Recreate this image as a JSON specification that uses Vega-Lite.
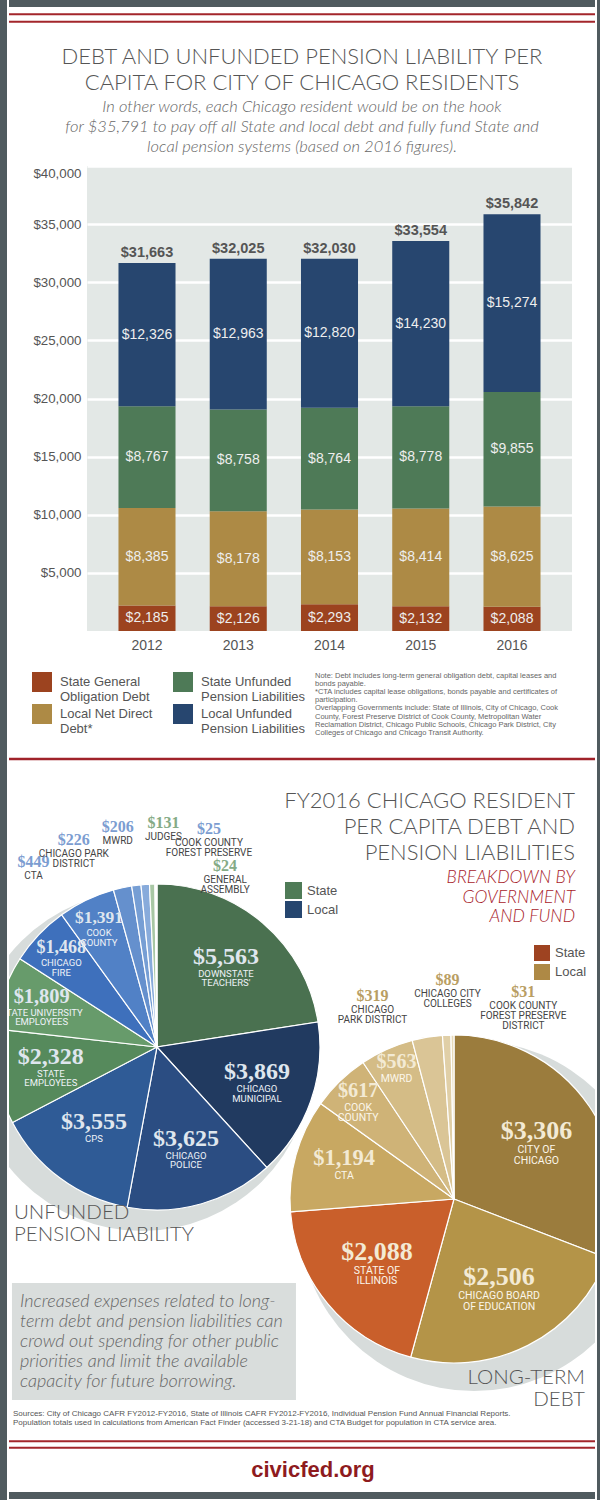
{
  "$schema": "https://vega.github.io/schema/vega-lite/v6.json",
  "background": "white",
  "padding": 0,
  "spacing": 0,
  "config": {
    "view": {"stroke": null},
    "font": "Liberation Sans",
    "concat": {"spacing": 0}
  },
  "resolve": {"scale": {"color": "independent", "size": "independent", "radius": "independent", "theta": "independent"}, "legend": {"color": "independent", "size": "independent"}},
  "datasets": {
    "bars": [
      {"year": "2012", "category": "State General Obligation Debt", "rank": 1, "value": 2185},
      {"year": "2012", "category": "Local Net Direct Debt*", "rank": 2, "value": 8385},
      {"year": "2012", "category": "State Unfunded Pension Liabilities", "rank": 3, "value": 8767},
      {"year": "2012", "category": "Local Unfunded Pension Liabilities", "rank": 4, "value": 12326},
      {"year": "2013", "category": "State General Obligation Debt", "rank": 1, "value": 2126},
      {"year": "2013", "category": "Local Net Direct Debt*", "rank": 2, "value": 8178},
      {"year": "2013", "category": "State Unfunded Pension Liabilities", "rank": 3, "value": 8758},
      {"year": "2013", "category": "Local Unfunded Pension Liabilities", "rank": 4, "value": 12963},
      {"year": "2014", "category": "State General Obligation Debt", "rank": 1, "value": 2293},
      {"year": "2014", "category": "Local Net Direct Debt*", "rank": 2, "value": 8153},
      {"year": "2014", "category": "State Unfunded Pension Liabilities", "rank": 3, "value": 8764},
      {"year": "2014", "category": "Local Unfunded Pension Liabilities", "rank": 4, "value": 12820},
      {"year": "2015", "category": "State General Obligation Debt", "rank": 1, "value": 2132},
      {"year": "2015", "category": "Local Net Direct Debt*", "rank": 2, "value": 8414},
      {"year": "2015", "category": "State Unfunded Pension Liabilities", "rank": 3, "value": 8778},
      {"year": "2015", "category": "Local Unfunded Pension Liabilities", "rank": 4, "value": 14230},
      {"year": "2016", "category": "State General Obligation Debt", "rank": 1, "value": 2088},
      {"year": "2016", "category": "Local Net Direct Debt*", "rank": 2, "value": 8625},
      {"year": "2016", "category": "State Unfunded Pension Liabilities", "rank": 3, "value": 9855},
      {"year": "2016", "category": "Local Unfunded Pension Liabilities", "rank": 4, "value": 15274}
    ],
    "pension": [
      {"pie": "pension", "fund": "Downstate Teachers'", "label": "DOWNSTATE\nTEACHERS'", "level": "State", "value": 5563},
      {"pie": "pension", "fund": "Chicago Municipal", "label": "CHICAGO\nMUNICIPAL", "level": "Local", "value": 3869},
      {"pie": "pension", "fund": "Chicago Police", "label": "CHICAGO\nPOLICE", "level": "Local", "value": 3625},
      {"pie": "pension", "fund": "CPS", "label": "CPS", "level": "Local", "value": 3555},
      {"pie": "pension", "fund": "State Employees", "label": "STATE\nEMPLOYEES", "level": "State", "value": 2328},
      {"pie": "pension", "fund": "State University Employees", "label": "STATE UNIVERSITY\nEMPLOYEES", "level": "State", "value": 1809},
      {"pie": "pension", "fund": "Chicago Fire", "label": "CHICAGO\nFIRE", "level": "Local", "value": 1468},
      {"pie": "pension", "fund": "Cook County", "label": "COOK\nCOUNTY", "level": "Local", "value": 1391},
      {"pie": "pension", "fund": "CTA", "label": "CTA", "level": "Local", "value": 449},
      {"pie": "pension", "fund": "Chicago Park District", "label": "CHICAGO PARK\nDISTRICT", "level": "Local", "value": 226},
      {"pie": "pension", "fund": "MWRD", "label": "MWRD", "level": "Local", "value": 206},
      {"pie": "pension", "fund": "Judges", "label": "JUDGES", "level": "State", "value": 131},
      {"pie": "pension", "fund": "Cook County Forest Preserve", "label": "COOK COUNTY\nFOREST PRESERVE", "level": "Local", "value": 25},
      {"pie": "pension", "fund": "General Assembly", "label": "GENERAL\nASSEMBLY", "level": "State", "value": 24}
    ],
    "debt": [
      {"pie": "debt", "fund": "City of Chicago", "label": "CITY OF\nCHICAGO", "level": "Local", "value": 3306},
      {"pie": "debt", "fund": "Chicago Board of Education", "label": "CHICAGO BOARD\nOF EDUCATION", "level": "Local", "value": 2506},
      {"pie": "debt", "fund": "State of Illinois", "label": "STATE OF\nILLINOIS", "level": "State", "value": 2088},
      {"pie": "debt", "fund": "CTA", "label": "CTA", "level": "Local", "value": 1194},
      {"pie": "debt", "fund": "Cook County", "label": "COOK\nCOUNTY", "level": "Local", "value": 617},
      {"pie": "debt", "fund": "MWRD", "label": "MWRD", "level": "Local", "value": 563},
      {"pie": "debt", "fund": "Chicago Park District", "label": "CHICAGO\nPARK DISTRICT", "level": "Local", "value": 319},
      {"pie": "debt", "fund": "Chicago City Colleges", "label": "CHICAGO CITY\nCOLLEGES", "level": "Local", "value": 89},
      {"pie": "debt", "fund": "Cook County Forest Preserve District", "label": "COOK COUNTY\nFOREST PRESERVE\nDISTRICT", "level": "Local", "value": 31}
    ],
    "pies": [
      {"pie": "pension", "caption": "UNFUNDED\nPENSION LIABILITY", "note": "Increased expenses related to long-\nterm debt and pension liabilities can\ncrowd out spending for other public\npriorities and limit the available\ncapacity for future borrowing."},
      {"pie": "debt", "caption": "LONG-TERM\nDEBT", "note": ""}
    ],
    "levels": [
      {"pie": "pension", "level": "State"},
      {"pie": "pension", "level": "Local"},
      {"pie": "debt", "level": "State"},
      {"pie": "debt", "level": "Local"}
    ]
  },
  "hconcat": [
    {"width": 7, "height": 1500, "data": {"values": []}, "mark": "point", "view": {"fill": "#505b5f", "stroke": null}},
    {
      "spacing": 0,
      "resolve": {"scale": {"color": "independent", "size": "independent", "radius": "independent", "theta": "independent"}, "legend": {"color": "independent", "size": "independent"}},
      "vconcat": [
        {"width": 586, "height": 7, "data": {"values": []}, "mark": "point", "view": {"fill": "#505b5f", "stroke": null}},
        {
          "width": 586, "height": 22,
          "data": {"values": [{"line": "upper"}, {"line": "lower"}]},
          "mark": {"type": "rule", "color": "#a3262b", "strokeWidth": 2},
          "encoding": {"y": {"field": "line", "type": "nominal", "scale": {"type": "point", "domain": ["upper", "lower"], "padding": 1}, "axis": null}}
        },
        {
          "width": 586, "height": 137,
          "data": {"values": [{"title": "DEBT AND UNFUNDED PENSION LIABILITY PER\nCAPITA FOR CITY OF CHICAGO RESIDENTS", "subtitle": "In other words, each Chicago resident would be on the hook\nfor $35,791 to pay off all State and local debt and fully fund State and\nlocal pension systems (based on 2016 figures)."}]},
          "layer": [
            {"mark": {"type": "text", "align": "center", "baseline": "middle", "dy": -40.5, "font": "Lato", "fontWeight": 300, "fontSize": 22, "lineHeight": 26, "color": "#555555", "lineBreak": "\n"}, "encoding": {"text": {"field": "title", "type": "nominal"}}},
            {"mark": {"type": "text", "align": "center", "baseline": "middle", "dy": 9.5, "font": "Lato", "fontStyle": "italic", "fontWeight": 300, "fontSize": 16.5, "lineHeight": 20, "color": "#666666", "lineBreak": "\n"}, "encoding": {"text": {"field": "subtitle", "type": "nominal"}}}
          ]
        },
        {
          "spacing": 0,
          "resolve": {"scale": {"color": "independent"}, "legend": {"color": "independent"}},
          "hconcat": [
            {"width": 23, "height": 1, "data": {"values": []}, "mark": "point"},
            {
              "width": 485, "height": 465,
              "view": {"fill": "#e3e8e6", "stroke": null},
              "data": {"name": "bars"},
              "encoding": {
                "x": {"field": "year", "type": "ordinal", "scale": {"paddingInner": 0.375, "paddingOuter": 0.345}, "axis": {"title": null, "labelAngle": 0, "labelFontSize": 14, "labelColor": "#555555", "labelPadding": 7, "domain": false, "ticks": false}}
              },
              "layer": [
                {
                  "mark": {"type": "bar"},
                  "encoding": {
                    "y": {"field": "value", "type": "quantitative", "stack": "zero", "title": null, "scale": {"domain": [0, 40000]},
                      "axis": {"values": [5000, 10000, 15000, 20000, 25000, 30000, 35000, 40000], "format": "$,.0f", "labelFontSize": 13.3, "labelColor": "#555555", "labelPadding": 6, "labelFlush": true, "domain": false, "ticks": false, "grid": true, "gridColor": "#ffffff", "gridWidth": 2.5, "gridOpacity": 1}},
                    "order": {"field": "rank", "type": "quantitative"},
                    "color": {
                      "field": "category", "type": "nominal",
                      "scale": {"domain": ["State General Obligation Debt", "Local Net Direct Debt*", "State Unfunded Pension Liabilities", "Local Unfunded Pension Liabilities"], "range": ["#9c431f", "#ad8a45", "#4e7a57", "#27466f"]},
                      "legend": {
                        "orient": "none", "legendX": -55, "legendY": 506, "columns": 2, "padding": 0,
                        "symbolType": "square", "symbolSize": 400, "symbolStrokeWidth": 0, "symbolOpacity": 1,
                        "labelFontSize": 13, "labelColor": "#555555", "labelOffset": 8, "labelLimit": 220, "columnPadding": 20, "rowPadding": 0,
                        "labelExpr": "datum.label == 'State General Obligation Debt' ? ['State General', 'Obligation Debt'] : datum.label == 'Local Net Direct Debt*' ? ['Local Net Direct', 'Debt*'] : datum.label == 'State Unfunded Pension Liabilities' ? ['State Unfunded', 'Pension Liabilities'] : ['Local Unfunded', 'Pension Liabilities']",
                        "title": ["Note: Debt includes long-term general obligation debt, capital leases and", "bonds payable.", "*CTA includes capital lease obligations, bonds payable and certificates of", "participation.", "Overlapping Governments include: State of Illinois, City of Chicago, Cook", "County, Forest Preserve District of Cook County, Metropolitan Water", "Reclamation District, Chicago Public Schools, Chicago Park District, City", "Colleges of Chicago and Chicago Transit Authority."],
                        "titleOrient": "right", "titleAnchor": "start", "titleAlign": "left", "titleBaseline": "top", "titlePadding": 10,
                        "titleFontSize": 7.5, "titleFontWeight": "normal", "titleColor": "#666666", "titleLimit": 300, "titleLineHeight": 8.1
                      }
                    }
                  }
                },
                {
                  "mark": {"type": "text", "fontSize": 14, "color": "#eeeeee"},
                  "encoding": {
                    "y": {"field": "value", "type": "quantitative", "stack": "zero", "bandPosition": 0.5, "title": null},
                    "detail": {"field": "category", "type": "nominal"},
                    "order": {"field": "rank", "type": "quantitative"},
                    "text": {"field": "value", "type": "quantitative", "format": "$,.0f"}
                  }
                },
                {
                  "mark": {"type": "text", "fontSize": 14.5, "fontWeight": "bold", "color": "#555555", "baseline": "bottom", "dy": -3},
                  "encoding": {
                    "y": {"aggregate": "sum", "field": "value", "type": "quantitative", "title": null},
                    "text": {"aggregate": "sum", "field": "value", "type": "quantitative", "format": "$,.0f"}
                  }
                }
              ]
            }
          ]
        },
        {"width": 586, "height": 14, "data": {"values": []}, "mark": "point"},
        {
          "width": 586, "height": 16,
          "data": {"values": [{"line": "separator"}]},
          "mark": {"type": "rule", "color": "#a0222a", "strokeWidth": 2.5},
          "encoding": {"y": {"field": "line", "type": "nominal", "scale": {"type": "point", "padding": 0.5}, "axis": null}}
        },
        {
          "width": 586, "height": 641,
          "resolve": {"scale": {"theta": "independent", "color": "independent", "radius": "independent", "size": "independent"}, "legend": {"color": "independent", "size": "independent"}},
          "layer": [
            {
              "data": {"name": "pies"},
              "transform": [{"filter": "datum.pie == 'pension'"}],
              "mark": {"type": "arc", "outerRadius": 170, "color": "#d7dcdb", "xOffset": -15, "yOffset": 14, "clip": true},
              "encoding": {
                "x": {"field": "pie", "type": "nominal", "scale": {"type": "point", "domain": ["pension", "debt"], "padding": 0.4865, "align": 0.512}, "axis": null},
                "y": {"field": "pie", "type": "nominal", "scale": {"type": "point", "domain": ["pension", "debt"], "range": [280, 432], "padding": 0}, "axis": null}
              }
            },
            {
              "data": {"name": "pies"},
              "transform": [{"filter": "datum.pie == 'debt'"}],
              "mark": {"type": "arc", "outerRadius": 175, "color": "#d7dcdb", "xOffset": 20, "yOffset": 17, "clip": true},
              "encoding": {
                "x": {"field": "pie", "type": "nominal", "scale": {"type": "point", "domain": ["pension", "debt"], "padding": 0.4865, "align": 0.512}, "axis": null},
                "y": {"field": "pie", "type": "nominal", "scale": {"type": "point", "domain": ["pension", "debt"], "range": [280, 432], "padding": 0}, "axis": null}
              }
            },
            {
              "data": {"name": "pies"},
              "transform": [{"filter": "datum.pie == 'pension'"}],
              "mark": {"type": "point", "shape": "M-1,-0.412L1,-0.412L1,0.412L-1,0.412Z", "size": 80656, "filled": true, "color": "#d9dddc", "opacity": 1, "strokeWidth": 0, "xOffset": -3, "yOffset": 294.5, "clip": true},
              "encoding": {
                "x": {"field": "pie", "type": "nominal", "scale": {"type": "point", "domain": ["pension", "debt"], "padding": 0.4865, "align": 0.512}, "axis": null},
                "y": {"field": "pie", "type": "nominal", "scale": {"type": "point", "domain": ["pension", "debt"], "range": [280, 432], "padding": 0}, "axis": null}
              }
            },
            {
              "data": {"name": "pies"},
              "transform": [{"filter": "datum.pie == 'pension'"}],
              "mark": {"type": "text", "align": "left", "baseline": "middle", "dx": -137, "dy": 255, "font": "Lato", "fontStyle": "italic", "fontWeight": 300, "fontSize": 18, "lineHeight": 20, "color": "#666666", "lineBreak": "\n", "clip": true},
              "encoding": {
                "x": {"field": "pie", "type": "nominal", "scale": {"type": "point", "domain": ["pension", "debt"], "padding": 0.4865, "align": 0.512}, "axis": null},
                "y": {"field": "pie", "type": "nominal", "scale": {"type": "point", "domain": ["pension", "debt"], "range": [280, 432], "padding": 0}, "axis": null},
                "text": {"field": "note", "type": "nominal"}
              }
            },
            {
              "data": {"name": "pension"},
              "mark": {"type": "arc", "outerRadius": 163, "stroke": "#ffffff", "strokeWidth": 1.2, "clip": true},
              "encoding": {
                "x": {"field": "pie", "type": "nominal", "scale": {"type": "point", "domain": ["pension", "debt"], "padding": 0.4865, "align": 0.512}, "axis": null},
                "y": {"field": "pie", "type": "nominal", "scale": {"type": "point", "domain": ["pension", "debt"], "range": [280, 432], "padding": 0}, "axis": null},
                "theta": {"field": "value", "type": "quantitative", "stack": true},
                "order": {"field": "value", "type": "quantitative", "sort": "descending"},
                "color": {"field": "fund", "type": "nominal", "legend": null,
                  "scale": {"domain": ["Downstate Teachers'", "Chicago Municipal", "Chicago Police", "CPS", "State Employees", "State University Employees", "Chicago Fire", "Cook County", "CTA", "Chicago Park District", "MWRD", "Judges", "Cook County Forest Preserve", "General Assembly"],
                    "range": ["#4a7150", "#213a60", "#2b4d82", "#2f5b96", "#568a5c", "#679b6b", "#3e70bc", "#5181c6", "#6590cd", "#769ed4", "#88abdb", "#a8c7a4", "#b7cfeb", "#c6dac2"]}}
              }
            },
            {
              "data": {"name": "debt"},
              "mark": {"type": "arc", "outerRadius": 164, "stroke": "#ffffff", "strokeWidth": 1.2, "clip": true},
              "encoding": {
                "x": {"field": "pie", "type": "nominal", "scale": {"type": "point", "domain": ["pension", "debt"], "padding": 0.4865, "align": 0.512}, "axis": null},
                "y": {"field": "pie", "type": "nominal", "scale": {"type": "point", "domain": ["pension", "debt"], "range": [280, 432], "padding": 0}, "axis": null},
                "theta": {"field": "value", "type": "quantitative", "stack": true},
                "order": {"field": "value", "type": "quantitative", "sort": "descending"},
                "color": {"field": "fund", "type": "nominal", "legend": null,
                  "scale": {"domain": ["City of Chicago", "Chicago Board of Education", "State of Illinois", "CTA", "Cook County", "MWRD", "Chicago Park District", "Chicago City Colleges", "Cook County Forest Preserve District"],
                    "range": ["#9b7c3d", "#b49448", "#c95f2b", "#c8a862", "#cfb377", "#d4bc86", "#dac596", "#e0cfa7", "#e7dab9"]}}
              }
            },
            {
              "data": {"name": "pension"},
              "mark": {"type": "text", "font": "Liberation Serif", "fontWeight": "bold", "color": "#dfe6ee", "baseline": "alphabetic", "dy": -3, "clip": true},
              "encoding": {
                "x": {"field": "pie", "type": "nominal", "scale": {"type": "point", "domain": ["pension", "debt"], "padding": 0.4865, "align": 0.512}, "axis": null},
                "y": {"field": "pie", "type": "nominal", "scale": {"type": "point", "domain": ["pension", "debt"], "range": [280, 432], "padding": 0}, "axis": null},
                "theta": {"field": "value", "type": "quantitative", "stack": true},
                "order": {"field": "value", "type": "quantitative", "sort": "descending"},
                "radius": {"field": "value", "type": "quantitative", "scale": {"type": "linear", "domain": [1391, 2400], "range": [134, 106], "clamp": true, "zero": false}},
                "size": {"field": "value", "type": "quantitative", "scale": {"type": "linear", "domain": [1391, 2328], "range": [17.5, 24], "clamp": true, "zero": false}, "legend": null},
                "text": {"condition": {"test": "datum.value >= 1000", "field": "value", "type": "quantitative", "format": "$,.0f"}, "value": ""}
              }
            },
            {
              "data": {"name": "pension"},
              "mark": {"type": "text", "font": "Roboto", "fontSize": 9.5, "lineHeight": 9.5, "color": "#eef2f7", "baseline": "top", "dy": 2, "lineBreak": "\n", "clip": true},
              "encoding": {
                "x": {"field": "pie", "type": "nominal", "scale": {"type": "point", "domain": ["pension", "debt"], "padding": 0.4865, "align": 0.512}, "axis": null},
                "y": {"field": "pie", "type": "nominal", "scale": {"type": "point", "domain": ["pension", "debt"], "range": [280, 432], "padding": 0}, "axis": null},
                "theta": {"field": "value", "type": "quantitative", "stack": true},
                "order": {"field": "value", "type": "quantitative", "sort": "descending"},
                "radius": {"field": "value", "type": "quantitative", "scale": {"type": "linear", "domain": [1391, 2400], "range": [134, 106], "clamp": true, "zero": false}},
                "text": {"condition": {"test": "datum.value >= 1000", "field": "label", "type": "nominal"}, "value": ""}
              }
            },
            {
              "data": {"name": "debt"},
              "mark": {"type": "text", "font": "Liberation Serif", "fontWeight": "bold", "color": "#f3ead4", "baseline": "alphabetic", "dy": -3, "clip": true},
              "encoding": {
                "x": {"field": "pie", "type": "nominal", "scale": {"type": "point", "domain": ["pension", "debt"], "padding": 0.4865, "align": 0.512}, "axis": null},
                "y": {"field": "pie", "type": "nominal", "scale": {"type": "point", "domain": ["pension", "debt"], "range": [280, 432], "padding": 0}, "axis": null},
                "theta": {"field": "value", "type": "quantitative", "stack": true},
                "order": {"field": "value", "type": "quantitative", "sort": "descending"},
                "radius": {"field": "value", "type": "quantitative", "scale": {"type": "linear", "domain": [563, 1194, 2088], "range": [140, 114, 100], "clamp": true, "zero": false}},
                "size": {"field": "value", "type": "quantitative", "scale": {"type": "linear", "domain": [563, 2088], "range": [20, 26], "clamp": true, "zero": false}, "legend": null},
                "text": {"condition": {"test": "datum.value >= 500", "field": "value", "type": "quantitative", "format": "$,.0f"}, "value": ""}
              }
            },
            {
              "data": {"name": "debt"},
              "mark": {"type": "text", "font": "Roboto", "fontSize": 10.5, "lineHeight": 10.5, "color": "#fbf6ea", "baseline": "top", "dy": 3, "lineBreak": "\n", "clip": true},
              "encoding": {
                "x": {"field": "pie", "type": "nominal", "scale": {"type": "point", "domain": ["pension", "debt"], "padding": 0.4865, "align": 0.512}, "axis": null},
                "y": {"field": "pie", "type": "nominal", "scale": {"type": "point", "domain": ["pension", "debt"], "range": [280, 432], "padding": 0}, "axis": null},
                "theta": {"field": "value", "type": "quantitative", "stack": true},
                "order": {"field": "value", "type": "quantitative", "sort": "descending"},
                "radius": {"field": "value", "type": "quantitative", "scale": {"type": "linear", "domain": [563, 1194, 2088], "range": [140, 114, 100], "clamp": true, "zero": false}},
                "text": {"condition": {"test": "datum.value >= 500", "field": "label", "type": "nominal"}, "value": ""}
              }
            },
            {
              "data": {"name": "pension"},
              "transform": [{"filter": "datum.value < 1000 && datum.fund != 'General Assembly'"}],
              "mark": {"type": "text", "radius": 216, "font": "Liberation Serif", "fontWeight": "bold", "fontSize": 16, "baseline": "bottom", "clip": true},
              "encoding": {
                "x": {"field": "pie", "type": "nominal", "scale": {"type": "point", "domain": ["pension", "debt"], "padding": 0.4865, "align": 0.512}, "axis": null},
                "y": {"field": "pie", "type": "nominal", "scale": {"type": "point", "domain": ["pension", "debt"], "range": [280, 432], "padding": 0}, "axis": null},
                "theta": {"field": "fund", "type": "nominal", "scale": {"type": "point", "domain": ["CTA", "Chicago Park District", "MWRD", "Judges", "Cook County Forest Preserve"], "range": [-0.608, 0.243], "padding": 0}},
                "color": {"field": "level", "type": "nominal", "scale": {"domain": ["State", "Local"], "range": ["#85ab86", "#7c9dd1"]}, "legend": null},
                "text": {"field": "value", "type": "quantitative", "format": "$,.0f"}
              }
            },
            {
              "data": {"name": "pension"},
              "transform": [{"filter": "datum.value < 1000 && datum.fund != 'General Assembly'"}],
              "mark": {"type": "text", "radius": 216, "font": "Roboto", "fontSize": 10, "lineHeight": 10, "color": "#444444", "baseline": "top", "dy": 1, "lineBreak": "\n", "clip": true},
              "encoding": {
                "x": {"field": "pie", "type": "nominal", "scale": {"type": "point", "domain": ["pension", "debt"], "padding": 0.4865, "align": 0.512}, "axis": null},
                "y": {"field": "pie", "type": "nominal", "scale": {"type": "point", "domain": ["pension", "debt"], "range": [280, 432], "padding": 0}, "axis": null},
                "theta": {"field": "fund", "type": "nominal", "scale": {"type": "point", "domain": ["CTA", "Chicago Park District", "MWRD", "Judges", "Cook County Forest Preserve"], "range": [-0.608, 0.243], "padding": 0}},
                "text": {"field": "label", "type": "nominal"}
              }
            },
            {
              "data": {"name": "pension"},
              "transform": [{"filter": "datum.fund == 'General Assembly'"}],
              "mark": {"type": "text", "radius": 186, "font": "Liberation Serif", "fontWeight": "bold", "fontSize": 16, "baseline": "bottom", "clip": true},
              "encoding": {
                "x": {"field": "pie", "type": "nominal", "scale": {"type": "point", "domain": ["pension", "debt"], "padding": 0.4865, "align": 0.512}, "axis": null},
                "y": {"field": "pie", "type": "nominal", "scale": {"type": "point", "domain": ["pension", "debt"], "range": [280, 432], "padding": 0}, "axis": null},
                "theta": {"field": "fund", "type": "nominal", "scale": {"type": "point", "domain": ["General Assembly"], "range": [0.3, 0.45], "padding": 0}},
                "color": {"field": "level", "type": "nominal", "scale": {"domain": ["State", "Local"], "range": ["#85ab86", "#7c9dd1"]}, "legend": null},
                "text": {"field": "value", "type": "quantitative", "format": "$,.0f"}
              }
            },
            {
              "data": {"name": "pension"},
              "transform": [{"filter": "datum.fund == 'General Assembly'"}],
              "mark": {"type": "text", "radius": 186, "font": "Roboto", "fontSize": 10, "lineHeight": 10, "color": "#444444", "baseline": "top", "dy": 1, "lineBreak": "\n", "clip": true},
              "encoding": {
                "x": {"field": "pie", "type": "nominal", "scale": {"type": "point", "domain": ["pension", "debt"], "padding": 0.4865, "align": 0.512}, "axis": null},
                "y": {"field": "pie", "type": "nominal", "scale": {"type": "point", "domain": ["pension", "debt"], "range": [280, 432], "padding": 0}, "axis": null},
                "theta": {"field": "fund", "type": "nominal", "scale": {"type": "point", "domain": ["General Assembly"], "range": [0.3, 0.45], "padding": 0}},
                "text": {"field": "label", "type": "nominal"}
              }
            },
            {
              "data": {"name": "debt"},
              "transform": [{"filter": "datum.value < 500"}],
              "mark": {"type": "text", "radius": 211, "font": "Liberation Serif", "fontWeight": "bold", "fontSize": 16, "color": "#b99e63", "baseline": "bottom", "clip": true},
              "encoding": {
                "x": {"field": "pie", "type": "nominal", "scale": {"type": "point", "domain": ["pension", "debt"], "padding": 0.4865, "align": 0.512}, "axis": null},
                "y": {"field": "pie", "type": "nominal", "scale": {"type": "point", "domain": ["pension", "debt"], "range": [280, 432], "padding": 0}, "axis": null},
                "theta": {"field": "fund", "type": "nominal", "scale": {"type": "point", "domain": ["Chicago Park District", "Chicago City Colleges", "Cook County Forest Preserve District"], "range": [-0.396, 0.335], "padding": 0}},
                "text": {"field": "value", "type": "quantitative", "format": "$,.0f"}
              }
            },
            {
              "data": {"name": "debt"},
              "transform": [{"filter": "datum.value < 500"}],
              "mark": {"type": "text", "radius": 211, "font": "Roboto", "fontSize": 10, "lineHeight": 10, "color": "#444444", "baseline": "top", "dy": 1, "lineBreak": "\n", "clip": true},
              "encoding": {
                "x": {"field": "pie", "type": "nominal", "scale": {"type": "point", "domain": ["pension", "debt"], "padding": 0.4865, "align": 0.512}, "axis": null},
                "y": {"field": "pie", "type": "nominal", "scale": {"type": "point", "domain": ["pension", "debt"], "range": [280, 432], "padding": 0}, "axis": null},
                "theta": {"field": "fund", "type": "nominal", "scale": {"type": "point", "domain": ["Chicago Park District", "Chicago City Colleges", "Cook County Forest Preserve District"], "range": [-0.396, 0.335], "padding": 0}},
                "text": {"field": "label", "type": "nominal"}
              }
            },
            {
              "data": {"name": "levels"},
              "transform": [{"filter": "datum.pie == 'pension'"}],
              "mark": {"type": "point", "filled": true, "opacity": 0, "clip": true},
              "encoding": {
                "x": {"field": "pie", "type": "nominal", "scale": {"type": "point", "domain": ["pension", "debt"], "padding": 0.4865, "align": 0.512}, "axis": null},
                "y": {"field": "pie", "type": "nominal", "scale": {"type": "point", "domain": ["pension", "debt"], "range": [280, 432], "padding": 0}, "axis": null},
                "color": {"field": "level", "type": "nominal", "scale": {"domain": ["State", "Local"], "range": ["#4f7b57", "#26466f"]},
                  "legend": {"orient": "none", "legendX": 276, "legendY": 115, "title": null, "padding": 0, "symbolType": "square", "symbolSize": 289, "symbolOpacity": 1, "symbolStrokeWidth": 0, "labelFontSize": 13, "labelColor": "#555555", "labelOffset": 5, "rowPadding": 2}}
              }
            },
            {
              "data": {"name": "levels"},
              "transform": [{"filter": "datum.pie == 'debt'"}],
              "mark": {"type": "point", "filled": true, "opacity": 0, "clip": true},
              "encoding": {
                "x": {"field": "pie", "type": "nominal", "scale": {"type": "point", "domain": ["pension", "debt"], "padding": 0.4865, "align": 0.512}, "axis": null},
                "y": {"field": "pie", "type": "nominal", "scale": {"type": "point", "domain": ["pension", "debt"], "range": [280, 432], "padding": 0}, "axis": null},
                "color": {"field": "level", "type": "nominal", "scale": {"domain": ["State", "Local"], "range": ["#9e4321", "#ae8945"]},
                  "legend": {"orient": "none", "legendX": 525, "legendY": 178, "title": null, "padding": 0, "symbolType": "square", "symbolSize": 256, "symbolOpacity": 1, "symbolStrokeWidth": 0, "labelFontSize": 13, "labelColor": "#555555", "labelOffset": 5, "rowPadding": 3}}
              }
            },
            {
              "data": {"name": "pies"},
              "transform": [{"filter": "datum.pie == 'pension'"}],
              "mark": {"type": "text", "align": "left", "baseline": "alphabetic", "dx": -143, "dy": 172, "font": "Lato", "fontWeight": 300, "fontSize": 20.5, "lineHeight": 22, "color": "#555555", "lineBreak": "\n", "clip": true},
              "encoding": {
                "x": {"field": "pie", "type": "nominal", "scale": {"type": "point", "domain": ["pension", "debt"], "padding": 0.4865, "align": 0.512}, "axis": null},
                "y": {"field": "pie", "type": "nominal", "scale": {"type": "point", "domain": ["pension", "debt"], "range": [280, 432], "padding": 0}, "axis": null},
                "text": {"field": "caption", "type": "nominal"}
              }
            },
            {
              "data": {"name": "pies"},
              "transform": [{"filter": "datum.pie == 'debt'"}],
              "mark": {"type": "text", "align": "right", "baseline": "alphabetic", "dx": 131, "dy": 185, "font": "Lato", "fontWeight": 300, "fontSize": 20.5, "lineHeight": 22, "color": "#555555", "lineBreak": "\n", "clip": true},
              "encoding": {
                "x": {"field": "pie", "type": "nominal", "scale": {"type": "point", "domain": ["pension", "debt"], "padding": 0.4865, "align": 0.512}, "axis": null},
                "y": {"field": "pie", "type": "nominal", "scale": {"type": "point", "domain": ["pension", "debt"], "range": [280, 432], "padding": 0}, "axis": null},
                "text": {"field": "caption", "type": "nominal"}
              }
            },
            {
              "data": {"values": [{"heading": "FY2016 CHICAGO RESIDENT\nPER CAPITA  DEBT AND\nPENSION LIABILITIES", "sub": "BREAKDOWN BY\nGOVERNMENT\nAND FUND"}]},
              "layer": [
                {"mark": {"type": "text", "align": "right", "baseline": "middle", "dx": 273, "dy": -286.5, "font": "Lato", "fontWeight": 300, "fontSize": 22, "lineHeight": 26, "color": "#555555", "lineBreak": "\n", "clip": true}, "encoding": {"text": {"field": "heading", "type": "nominal"}}},
                {"mark": {"type": "text", "align": "right", "baseline": "middle", "dx": 273, "dy": -209.5, "font": "Lato", "fontStyle": "italic", "fontWeight": 300, "fontSize": 17.5, "lineHeight": 19.5, "color": "#a8232b", "lineBreak": "\n", "clip": true}, "encoding": {"text": {"field": "sub", "type": "nominal"}}}
              ]
            }
          ]
        },
        {
          "width": 586, "height": 27,
          "data": {"values": [{"sources": "Sources: City of Chicago CAFR FY2012-FY2016, State of Illinois CAFR FY2012-FY2016, Individual Pension Fund Annual Financial Reports.\nPopulation totals used in calculations from American Fact Finder (accessed 3-21-18) and CTA Budget for population in CTA service area."}]},
          "mark": {"type": "text", "align": "left", "baseline": "middle", "dx": -289, "dy": -7.5, "fontSize": 8, "lineHeight": 8.5, "color": "#555555", "lineBreak": "\n"},
          "encoding": {"text": {"field": "sources", "type": "nominal"}}
        },
        {
          "width": 586, "height": 19,
          "data": {"values": [{"line": "upper"}, {"line": "lower"}]},
          "mark": {"type": "rule", "color": "#a3262b", "strokeWidth": 2},
          "encoding": {"y": {"field": "line", "type": "nominal", "scale": {"type": "point", "domain": ["upper", "lower"], "padding": 1}, "axis": null}}
        },
        {
          "width": 586, "height": 38,
          "data": {"values": [{"site": "civicfed.org"}]},
          "mark": {"type": "text", "align": "center", "baseline": "middle", "dx": 11, "dy": -3, "fontSize": 22, "fontWeight": "bold", "color": "#8e1b1e"},
          "encoding": {"text": {"field": "site", "type": "nominal"}}
        },
        {"width": 586, "height": 7, "data": {"values": []}, "mark": "point", "view": {"fill": "#505b5f", "stroke": null}}
      ]
    },
    {"width": 7, "height": 1500, "data": {"values": []}, "mark": "point", "view": {"fill": "#505b5f", "stroke": null}}
  ]
}
